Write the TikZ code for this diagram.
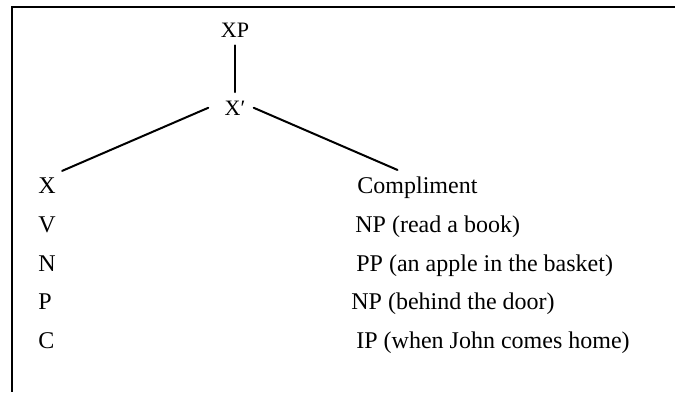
\documentclass[tikz,border=0pt]{standalone}
\usepackage{fontspec}
\setmainfont{Liberation Serif}
\usepackage{tikz}
\usetikzlibrary{positioning,calc}

\tikzset{
	tag/.style={inner sep=4pt, font=\fontsize{11}{13}\selectfont},
	word/.style={inner sep=3pt, anchor=base west, font=\fontsize{12}{14}\selectfont},
	branch/.style={line width=1pt, line cap=round},
	frame/.style={line width=1pt}
}

\begin{document}
\begin{tikzpicture}[x=0.5pt, y=-0.5pt]
	\useasboundingbox (0,0) rectangle (675,392);
	\draw[frame] (675,7) -- (12,7) -- (12,392);
	\node[tag, anchor=base] (xp) at (235,37) {XP};
	\node[tag, anchor=base] (xbar) at (235,115) {X′};
	\node[word] (xhead) at (32,193) {X};
	\node[word] (compl) at (351,193) {Compliment};
	\node[word] (v) at (32,232) {V};
	\node[word] (np1) at (349,232) {NP (read a book)};
	\node[word] (n) at (32,271) {N};
	\node[word] (pp) at (350,271) {PP (an apple in the basket)};
	\node[word] (p) at (32,309) {P};
	\node[word] (np2) at (345,309) {NP (behind the door)};
	\node[word] (c) at (32,348) {C};
	\node[word] (ip) at (350,348) {IP (when John comes home)};
	\draw[branch] (xp.south) -- (xbar.north);
	\draw[branch] ([xshift=-4pt]xbar.west) -- (xhead.north east);
	\draw[branch] (xbar.east) -- ($(compl.north west)!0.35!(compl.north east)$);
\end{tikzpicture}
\end{document}
